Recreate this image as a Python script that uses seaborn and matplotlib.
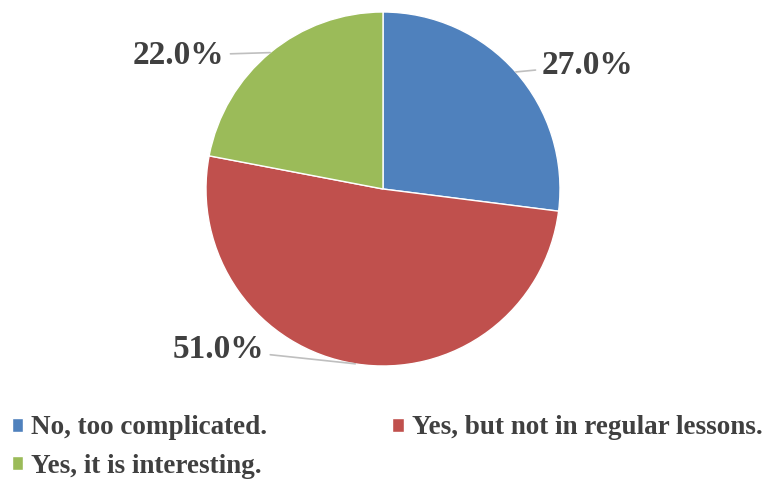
import numpy as np
import seaborn as sns
import matplotlib.pyplot as plt

# Data
categories = ["No, too complicated.", "Yes, but not in regular lessons.", "Yes, it is interesting."]
shares = [27.0, 51.0, 22.0]
colors = ["#4F81BD", "#C0504D", "#9BBB59"]

# where each percentage label sits (axes data units, pie radius = 1)
label_pos = [(1.155, 0.70), (-0.93, -0.905), (-1.155, 0.755)]

sns.set_theme(style="white")
plt.rcParams["font.family"] = ["Liberation Serif", "DejaVu Serif"]
text_col = "#404040"

fig = plt.figure(figsize=(7.63, 4.79), dpi=100)
W, H = 763, 479
cx, cy, r = 383, 189, 177
ax = fig.add_axes([(cx - r) / W, (H - cy - r) / H, 2 * r / W, 2 * r / H])

wedges, _ = ax.pie(shares, colors=colors, startangle=90, counterclock=False,
                   radius=1, wedgeprops=dict(edgecolor="white", linewidth=1))
ax.set_xlim(-1, 1)
ax.set_ylim(-1, 1)
ax.set_aspect("equal")
ax.axis("off")

# percentage labels with leader lines from each wedge's mid angle
for w, val, pos in zip(wedges, shares, label_pos):
    ang = np.deg2rad((w.theta1 + w.theta2) / 2)
    edge = (np.cos(ang), np.sin(ang))
    ax.annotate(f"{val:.1f}%", xy=edge, xytext=pos, ha="center", va="center",
                fontsize=24, fontweight="bold", color=text_col,
                arrowprops=dict(arrowstyle="-", color="#BFBFBF", lw=1.2,
                                shrinkA=2, shrinkB=0),
                annotation_clip=False)

# legend, row-major order like the original
order = [0, 2, 1]
leg = fig.legend([wedges[i] for i in order], [categories[i] for i in order],
                 loc="upper left", bbox_to_anchor=(0.0157, 0.133), ncol=2,
                 frameon=False, borderpad=0, borderaxespad=0,
                 handlelength=0.42, handleheight=0.42,
                 handletextpad=0.3, columnspacing=4.6, labelspacing=0.5,
                 prop=dict(family="Liberation Serif", weight="bold", size=19.5))
for t in leg.get_texts():
    t.set_color(text_col)

fig.savefig("out.png", dpi=100, facecolor="white")
